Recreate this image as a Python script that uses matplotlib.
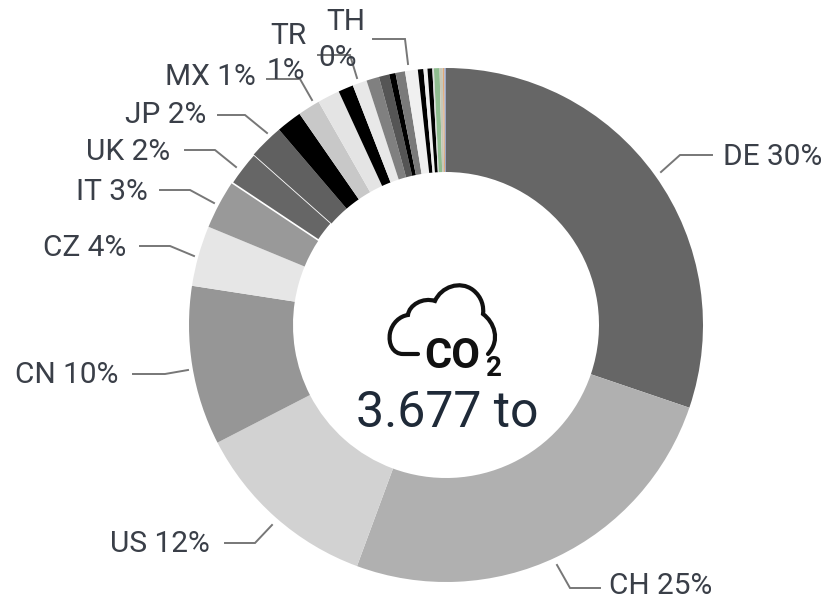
import matplotlib
matplotlib.use("Agg")
import matplotlib.pyplot as plt
from matplotlib.path import Path
from matplotlib.patches import PathPatch

shares = [30.2, 25.4, 11.8, 10.0, 3.8, 3.1, 2.2, 2.2, 1.6, 1.4, 1.4, 0.95, 0.9, 0.8,
          0.65, 0.4, 0.6, 0.8, 0.35, 0.25, 0.3, 0.1, 0.35, 0.2, 0.1, 0.1]
colors = ["#666666", "#b0b0b0", "#d2d2d2", "#969696", "#e6e6e6", "#999999", "#666666", "#606060",
          "#000000", "#c8c8c8", "#e4e4e4", "#000000", "#e8e8e8", "#808080", "#555555", "#000000",
          "#7a7a7a", "#f0f0f0", "#000000", "#eeeeee", "#000000", "#dddddd", "#8fbc8f", "#c8c8b8",
          "#e0a878", "#9aa8c8"]
labels = ["DE 30%", "CH 25%", "US 12%", "CN 10%", "CZ 4%", "IT 3%", "UK 2%", "JP 2%", "MX 1%", "TR", "1%", "TH", "0%"]
label_x = [723, 609, 110, 15, 43, 76, 86, 125, 165, 270, 267, 326, 318]
label_y = [165, 594, 552, 383, 256, 200, 160, 123, 85, 44, 79, 30, 66]
leaders = [[(661, 172), (680, 155), (712, 155)], [(557, 565), (570, 588), (600, 588)],
           [(272, 525), (255, 543), (225, 543)], [(188, 370), (165, 374), (133, 374)],
           [(194, 256), (170, 246), (140, 246)], [(214, 203), (190, 190), (160, 190)],
           [(236, 167), (215, 150), (185, 150)], [(267, 133), (245, 115), (218, 115)],
           [(267, 79), (300, 79), (312, 100)], [(318, 55), (350, 55), (357, 78)],
           [(373, 39), (405, 39), (408, 64)]]

plt.rcParams["font.family"] = ["Roboto", "DejaVu Sans"]
H = 600
fig = plt.figure(figsize=(8.31, 6.0), dpi=100)
ax = fig.add_axes([0, 0, 1, 1])
wedges, _ = ax.pie(shares, colors=colors, startangle=90, counterclock=False, center=(446, H - 325),
                   radius=257, wedgeprops=dict(width=104, linewidth=0))
wedges[6].set_edgecolor("white")
wedges[6].set_linewidth(1.2)
ax.set_xlim(0, 831)
ax.set_ylim(0, H)
ax.set_aspect("equal")
ax.axis("off")

for s, x, y in zip(labels, label_x, label_y):
    ax.text(x, H - y, s, fontsize=21.5, color="#3a3f48", ha="left", va="baseline")
for pts in leaders:
    ax.plot([p[0] for p in pts], [H - p[1] for p in pts], color="#777777", lw=1.4, solid_joinstyle="miter")

# cloud icon (pixel coordinates of the reference)
M, C = Path.MOVETO, Path.CURVE4
c = [(418, 354), (414, 354), (412, 354), (403, 354),
     (393, 354), (388, 344), (390, 333),
     (392, 323), (400, 316), (408, 315),
     (409, 305), (423, 297), (435, 301),
     (441, 287), (460, 280), (473, 290),
     (482, 297), (484, 307), (483, 314),
     (494, 322), (501, 340), (488, 354)]
codes = [M] + [C] * (len(c) - 1)
ax.add_patch(PathPatch(Path([(x, H - y) for x, y in c], codes), fill=False, ec="#111111", lw=3.0, capstyle="round"))
ax.text(424, H - 356, "CO", fontsize=30, fontweight="bold", color="#111111", ha="left", va="center")
ax.text(486, H - 368, "2", fontsize=20, fontweight="bold", color="#111111", ha="left", va="center")
ax.text(447, H - 413, "3.677 to", fontsize=36, color="#1f2a38", ha="center", va="center")
fig.savefig("out.png", dpi=100, facecolor="white")
